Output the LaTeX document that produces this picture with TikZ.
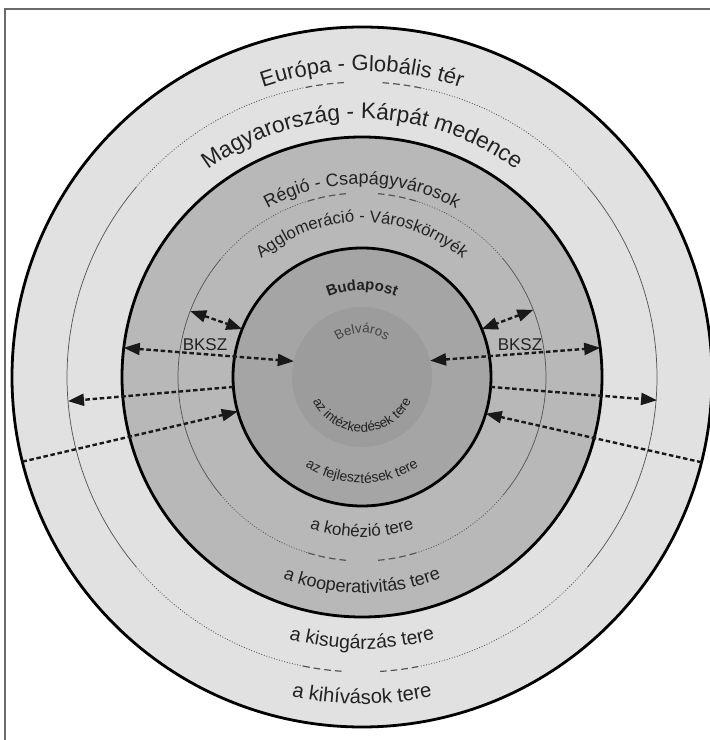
\documentclass[tikz,border=0pt]{standalone}
\usepackage{fontspec}
\setmainfont{Liberation Sans}
\usetikzlibrary{decorations.text,arrows.meta,calc}
\definecolor{ringA}{HTML}{E1E1E1}
\definecolor{ringB}{HTML}{B8B8B8}
\definecolor{ringC}{HTML}{A5A5A5}
\definecolor{ringD}{HTML}{9C9C9C}
\definecolor{txt}{HTML}{222222}
\definecolor{framecol}{HTML}{6A6A6A}
\definecolor{thincol}{HTML}{555555}
\tikzset{
  thickc/.style={line width=2.1pt, black},
  thinsolid/.style={line width=0.55pt, thincol},
  thindot/.style={line width=0.6pt, thincol, dash pattern=on 0.7pt off 1.3pt},
  thindash/.style={line width=0.9pt, thincol, dash pattern=on 5pt off 3pt},
  flow/.style={line width=1.8pt, black!90, dash pattern=on 3.4pt off 2pt},
  tri/.tip={Triangle[length=12pt,width=9pt]},
  lab/.style={font=\fontsize{12.75pt}{14pt}\selectfont, text=txt, inner sep=0pt},
}
% top curved text: #1 radius, #2 font size (pt), #3 text
\newcommand\toptext[3]{%
  \path[decorate, decoration={text along path, text align=center, text color=txt,
    text={|\fontsize{#2pt}{#2pt}\selectfont|#3}}]
    ($(C)+(170:#1)$) arc[start angle=170, end angle=10, radius=#1];}
\newcommand\bottext[3]{%
  \path[decorate, decoration={text along path, text align=center, text color=txt,
    text={|\fontsize{#2pt}{#2pt}\selectfont|#3}}]
    ($(C)+(190:#1)$) arc[start angle=190, end angle=350, radius=#1];}
% thin ring: #1 radius, #2 half gap angle, #3 dash span angle
\newcommand\thinring[3]{%
  \pgfmathsetmacro\ta{90-#2-#3}\pgfmathsetmacro\tb{90-#2}%
  \pgfmathsetmacro\tc{90+#2}\pgfmathsetmacro\td{90+#2+#3}%
  \pgfmathsetmacro\ba{270-#2-#3}\pgfmathsetmacro\bb{270-#2}%
  \pgfmathsetmacro\bc{270+#2}\pgfmathsetmacro\bd{270+#2+#3}%
  \draw[thinsolid] ($(C)+(-40:#1)$) arc[start angle=-40, end angle=40, radius=#1];
  \draw[thinsolid] ($(C)+(140:#1)$) arc[start angle=140, end angle=220, radius=#1];
  \draw[thindot] ($(C)+(40:#1)$) arc[start angle=40, end angle=\ta, radius=#1];
  \draw[thindash] ($(C)+(\ta:#1)$) arc[start angle=\ta, end angle=\tb, radius=#1];
  \draw[thindash] ($(C)+(\tc:#1)$) arc[start angle=\tc, end angle=\td, radius=#1];
  \draw[thindot] ($(C)+(\td:#1)$) arc[start angle=\td, end angle=140, radius=#1];
  \draw[thindot] ($(C)+(220:#1)$) arc[start angle=220, end angle=\ba, radius=#1];
  \draw[thindash] ($(C)+(\ba:#1)$) arc[start angle=\ba, end angle=\bb, radius=#1];
  \draw[thindash] ($(C)+(\bc:#1)$) arc[start angle=\bc, end angle=\bd, radius=#1];
  \draw[thindot] ($(C)+(\bd:#1)$) arc[start angle=\bd, end angle=320, radius=#1];}
\begin{document}
\begin{tikzpicture}[x=0.75pt,y=0.75pt]
\useasboundingbox (0,0) rectangle (710,740);
\fill[white] (0,0) rectangle (710,740);
\coordinate (C) at (362,363);
% frame
\draw[framecol, line width=1.3pt] (5,0) -- (5,731) -- (711,731);
% rings
\draw[thickc, fill=ringA] (C) circle[radius=350];
\thinring{295}{3.5}{8}
\draw[thickc, fill=ringB] (C) circle[radius=240];
\thinring{184}{5}{12}
\draw[thickc, fill=ringC] (C) circle[radius=129];
\fill[ringD] (C) circle[radius=70];
% curved texts (top)
\toptext{306}{16.5}{Európa - Globális tér}
\toptext{258}{17}{Magyarország - Kárpát medence}
\toptext{193}{13.5}{Régió - Csapágyvárosok}
\toptext{155}{12.5}{Agglomeráció - Városkörnyék}
\path[decorate, decoration={text along path, text align=center, text color=txt,
    text={|\fontsize{11.25pt}{12pt}\selectfont\bfseries|Budapost}}]
    ($(C)+(170:87)$) arc[start angle=170, end angle=10, radius=87];
\path[decorate, decoration={text along path, text align=center, text color=txt!85,
    text={|\fontsize{10pt}{10pt}\selectfont|Belváros}}]
    ($(C)+(170:44)$) arc[start angle=170, end angle=10, radius=44];
% curved texts (bottom)
\bottext{55}{10}{az intézkedések tere}
\bottext{106}{10.5}{az fejlesztések tere}
\bottext{160}{12.75}{a kohézió tere}
\bottext{216}{13.5}{a kooperativitás tere}
\bottext{272}{14.6}{a kisugárzás tere}
\bottext{327}{15.2}{a kihívások tere}
% labels
\node[lab] (bkszL) at (205,395) {BKSZ};
\node[lab] (bkszR) at (520,395) {BKSZ};
% arrow end points
\coordinate (a1i) at ($(C)+(167:70)$);
\coordinate (a1o) at ($(C)+(173:240)$);
\coordinate (a2i) at ($(C)+(184.4:129)$);
\coordinate (a2o) at ($(C)+(184.7:295)$);
\coordinate (a3o) at ($(C)+(194:350)$);
\coordinate (a3i) at ($(C)+(195.5:129)$);
\coordinate (a4o) at ($(C)+(159:184)$);
\coordinate (a4i) at ($(C)+(158.2:129)$);
\coordinate (b1i) at ($(C)+(13.5:70)$);
\coordinate (b1o) at ($(C)+(7:240)$);
\coordinate (b2i) at ($(C)+(-4.4:129)$);
\coordinate (b2o) at ($(C)+(-4.5:296)$);
\coordinate (b3o) at ($(C)+(-14.1:350)$);
\coordinate (b3i) at ($(C)+(-16.5:129)$);
\coordinate (b4o) at ($(C)+(21.4:184)$);
\coordinate (b4i) at ($(C)+(21.8:129)$);
% arrows
\draw[flow, tri-tri] (a1o) -- (a1i);
\draw[flow, -tri] (a2i) -- (a2o);
\draw[flow, -tri] (a3o) -- (a3i);
\draw[flow, tri-tri] (a4o) -- (a4i);
\draw[flow, tri-tri] (b1i) -- (b1o);
\draw[flow, -tri] (b2i) -- (b2o);
\draw[flow, -tri] (b3o) -- (b3i);
\draw[flow, tri-tri] (b4o) -- (b4i);
\end{tikzpicture}
\end{document}
